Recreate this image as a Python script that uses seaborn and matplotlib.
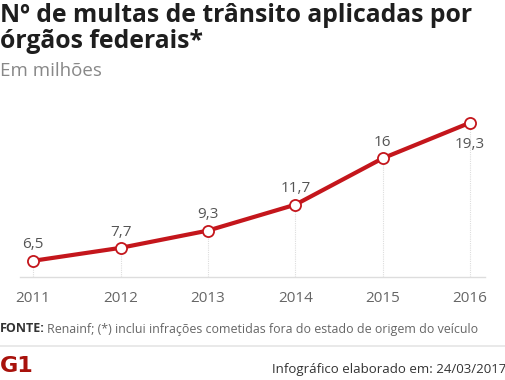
import matplotlib
matplotlib.use("Agg")
import matplotlib.pyplot as plt
import seaborn as sns
import pandas as pd

years = [2011, 2012, 2013, 2014, 2015, 2016]
values = [6.5, 7.7, 9.3, 11.7, 16.0, 19.3]
labels = ["6,5", "7,7", "9,3", "11,7", "16", "19,3"]
tick_labels = ["2011", "2012", "2013", "2014", "2015", "2016"]

sns.set_style("white")
plt.rcParams['font.family'] = ['Open Sans', 'DejaVu Sans']

W, H = 506, 380
fig = plt.figure(figsize=(W / 100, H / 100), dpi=100)
ax = fig.add_axes([20 / W, 1 - 277 / H, 465 / W, 177 / H])

df = pd.DataFrame({"ano": years, "multas": values})
red = "#c4161c"
sns.lineplot(data=df, x="ano", y="multas", ax=ax, color=red, linewidth=3,
             marker="o", markersize=8, markerfacecolor="white",
             markeredgecolor=red, markeredgewidth=1.3, zorder=3)

ax.set_xlim(2010.85, 2016.17)
ax.set_ylim(5, 21.4)

for x, y in zip(years, values):
    ax.plot([x, x], [5, y], color="#dddddd", lw=0.8, ls=(0, (1, 1)), zorder=1)

for i, (x, y, t) in enumerate(zip(years, values, labels)):
    if i == len(years) - 1:
        ax.annotate(t, (x, y), xytext=(0, -10), textcoords="offset points",
                    ha="center", va="top", fontsize=11, color="#555555")
    else:
        ax.annotate(t, (x, y), xytext=(0, 6), textcoords="offset points",
                    ha="center", va="bottom", fontsize=11, color="#555555")

for s in ["top", "right", "left"]:
    ax.spines[s].set_visible(False)
ax.spines["bottom"].set_color("#dddddd")
ax.spines["bottom"].set_linewidth(1)
ax.set_yticks([])
ax.set_xticks(years)
ax.set_xticklabels(tick_labels)
ax.tick_params(axis="x", length=0, pad=10, labelsize=11, labelcolor="#666666")
ax.set_xlabel("")
ax.set_ylabel("")

fig.text(0, 1 - 3 / H, "Nº de multas de trânsito aplicadas por\nórgãos federais*",
         ha="left", va="top", fontsize=17.8, fontweight="bold", color="#1e1e1e",
         linespacing=1.05)
fig.text(0, 1 - 71 / H, "Em milhões", ha="left", va="center", fontsize=13.5,
         color="#888888")

fig.text(0, 1 - 329 / H, "FONTE:", ha="left", va="center", fontsize=9,
         fontweight="bold", color="#333333")
fig.text(47 / W, 1 - 329 / H,
         "Renainf; (*) inclui infrações cometidas fora do estado de origem do veículo",
         ha="left", va="center", fontsize=8.9, color="#666666")

fig.add_artist(plt.Line2D([0, 1], [1 - 346 / H, 1 - 346 / H], color="#e5e5e5",
                          lw=1.2, transform=fig.transFigure))
fig.text(0, 1 - 366 / H, "G1", ha="left", va="center", fontsize=16,
         fontweight="heavy", color="#a8120c", family="DejaVu Sans")
fig.text(1, 1 - 369 / H, "Infográfico elaborado em: 24/03/2017", ha="right",
         va="center", fontsize=9.5, color="#333333")

fig.savefig("out.png", dpi=100)
